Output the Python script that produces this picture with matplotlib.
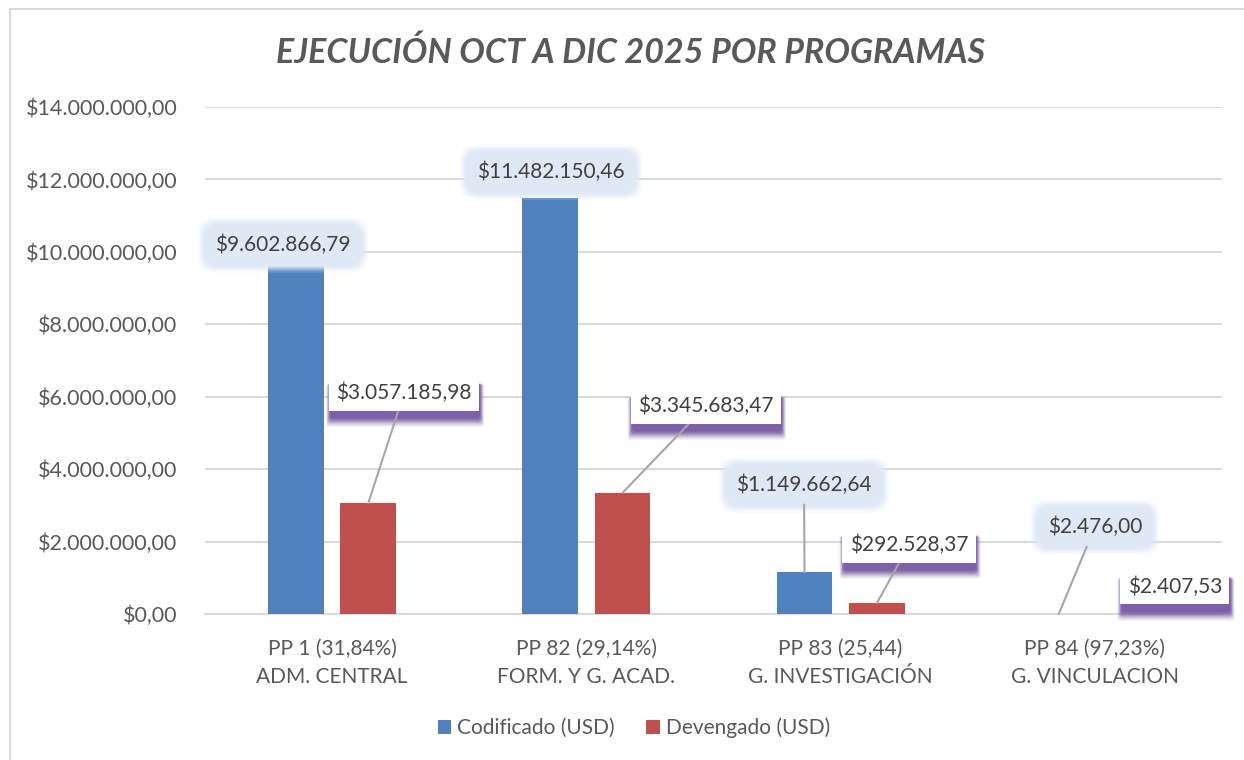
import matplotlib
matplotlib.use("Agg")
import matplotlib.pyplot as plt
from matplotlib.patches import FancyBboxPatch
from matplotlib.lines import Line2D
from matplotlib.ticker import FuncFormatter

categories = ["PP 1 (31,84%)\nADM. CENTRAL", "PP 82 (29,14%)\nFORM. Y G. ACAD.",
              "PP 83 (25,44)\nG. INVESTIGACIÓN", "PP 84 (97,23%)\nG. VINCULACION"]
codificado = [9602866.79, 11482150.46, 1149662.64, 2476.00]
devengado = [3057185.98, 3345683.47, 292528.37, 2407.53]
series_names = ["Codificado (USD)", "Devengado (USD)"]
title = "EJECUCIÓN OCT A DIC 2025 POR PROGRAMAS"

# label positions (data coords)
cod_label_pos = [(-0.193, 10.19e6), (0.861, 12.2e6), (1.856, 3.56e6), (3.0, 2.40e6)]
dev_label_pos = [(0.283, 6.10e6), (1.470, 5.74e6), (2.269, 1.905e6), (3.315, 0.746e6)]
cod_leader = [False, False, True, True]
dev_leader = [True, True, True, False]

FONT = "Lato"
plt.rcParams['font.family'] = [FONT, 'DejaVu Sans']

BLUE = "#4f81bd"
RED = "#c0504d"
TXT = "#595959"
LBL = "#404040"
FS = 15


def fmt_money(v, decimals=2):
    s = f"{v:,.{decimals}f}"
    s = s.replace(",", "X").replace(".", ",").replace("X", ".")
    return "$" + s


fig = plt.figure(figsize=(12.44, 7.6), dpi=100)
# chart frame (top and left edges visible)
fig.add_artist(Line2D([10 / 1244, 1.0], [1 - 9 / 760] * 2, transform=fig.transFigure,
                      color="#d9d9d9", lw=1.5))
fig.add_artist(Line2D([10 / 1244] * 2, [0, 1 - 9 / 760], transform=fig.transFigure,
                      color="#d9d9d9", lw=1.5))

ax = fig.add_axes([205 / 1244, 1 - 614 / 760, 1017 / 1244, 507 / 760])
x = list(range(len(categories)))
w = 0.22
off = 0.142
ax.bar([i - off for i in x], codificado, width=w, color=BLUE, label=series_names[0], zorder=3)
ax.bar([i + off for i in x], devengado, width=w, color=RED, label=series_names[1], zorder=3)

ax.set_xlim(-0.5, 3.5)
ax.set_ylim(0, 14e6)
ax.set_yticks([i * 2e6 for i in range(8)])
ax.yaxis.set_major_formatter(FuncFormatter(lambda v, p: fmt_money(v)))
ax.grid(axis="y", color="#d9d9d9", lw=1.5, zorder=0)
for s in ["top", "right", "left"]:
    ax.spines[s].set_visible(False)
ax.spines["bottom"].set_color("#d9d9d9")
ax.spines["bottom"].set_linewidth(1.5)
ax.tick_params(axis="y", length=0, pad=20, labelsize=15.5, labelcolor=TXT)
ax.tick_params(axis="x", length=0, pad=18, labelsize=FS, labelcolor=TXT)
ax.set_xticks(x)
ax.set_xticklabels(categories, linespacing=1.5)

fig.text(630 / 1244, 1 - 53 / 760, title, ha="center", va="center",
         fontsize=24.5, fontweight="bold", fontstyle="italic", color=TXT)

blue_anns = []
for i, (v, (lx, ly), lead) in enumerate(zip(codificado, cod_label_pos, cod_leader)):
    a = ax.annotate(fmt_money(v), xy=(i - off, v), xytext=(lx, ly),
                    ha="center", va="center", fontsize=FS, color=LBL, zorder=6,
                    annotation_clip=False,
                    bbox=dict(boxstyle="round,pad=0.45", fc="none", ec="none"),
                    arrowprops=dict(arrowstyle="-", color="#a6a6a6", lw=1.5,
                                    shrinkA=0, shrinkB=0) if lead else None)
    blue_anns.append(a)

red_anns = []
for i, (v, (lx, ly), lead) in enumerate(zip(devengado, dev_label_pos, dev_leader)):
    a = ax.annotate(fmt_money(v), xy=(i + off, v), xytext=(lx, ly),
                    ha="center", va="center", fontsize=FS, color=LBL, zorder=6,
                    annotation_clip=False,
                    bbox=dict(boxstyle="square,pad=0.35", fc="white", ec="none"),
                    arrowprops=dict(arrowstyle="-", color="#a6a6a6", lw=1.5,
                                    shrinkA=0, shrinkB=0) if lead else None)
    red_anns.append(a)

handles, labels = ax.get_legend_handles_labels()
fig.legend(handles, labels, loc="center", bbox_to_anchor=(634 / 1244, 1 - 728 / 760),
           ncol=2, frameon=False, fontsize=FS, labelcolor=TXT, handlelength=0.65,
           handleheight=0.65, handletextpad=0.3, columnspacing=1.5)

# decorations (glow / shadow) as patches behind the labels
fig.canvas.draw()
for a in blue_anns:
    bb = a.get_bbox_patch().get_window_extent()
    for grow, alpha in [(8, 0.2), (6, 0.35), (4, 0.6), (2, 1.0)]:
        p = FancyBboxPatch((bb.x0 - grow, bb.y0 - grow), bb.width + 2 * grow,
                           bb.height + 2 * grow,
                           boxstyle="round,pad=0,rounding_size=16", transform=None,
                           fc="#dfe8f5", ec="none", alpha=alpha, zorder=4)
        p.set_clip_on(False)
        ax.add_artist(p)

for a in red_anns:
    bb = a.get_bbox_patch().get_window_extent()
    for grow, dy, alpha in [(4, -12, 0.15), (3, -11, 0.25), (2, -10, 0.4),
                            (1, -9, 0.6), (0, -8, 0.9)]:
        p = FancyBboxPatch((bb.x0 - grow + 1, bb.y0 + dy - grow), bb.width + 2 * grow,
                           bb.height + 2 * grow,
                           boxstyle="round,pad=0,rounding_size=3", transform=None,
                           fc="#7b5ea7", ec="none", alpha=alpha, zorder=4)
        p.set_clip_on(False)
        ax.add_artist(p)

fig.savefig("out.png", dpi=100)
